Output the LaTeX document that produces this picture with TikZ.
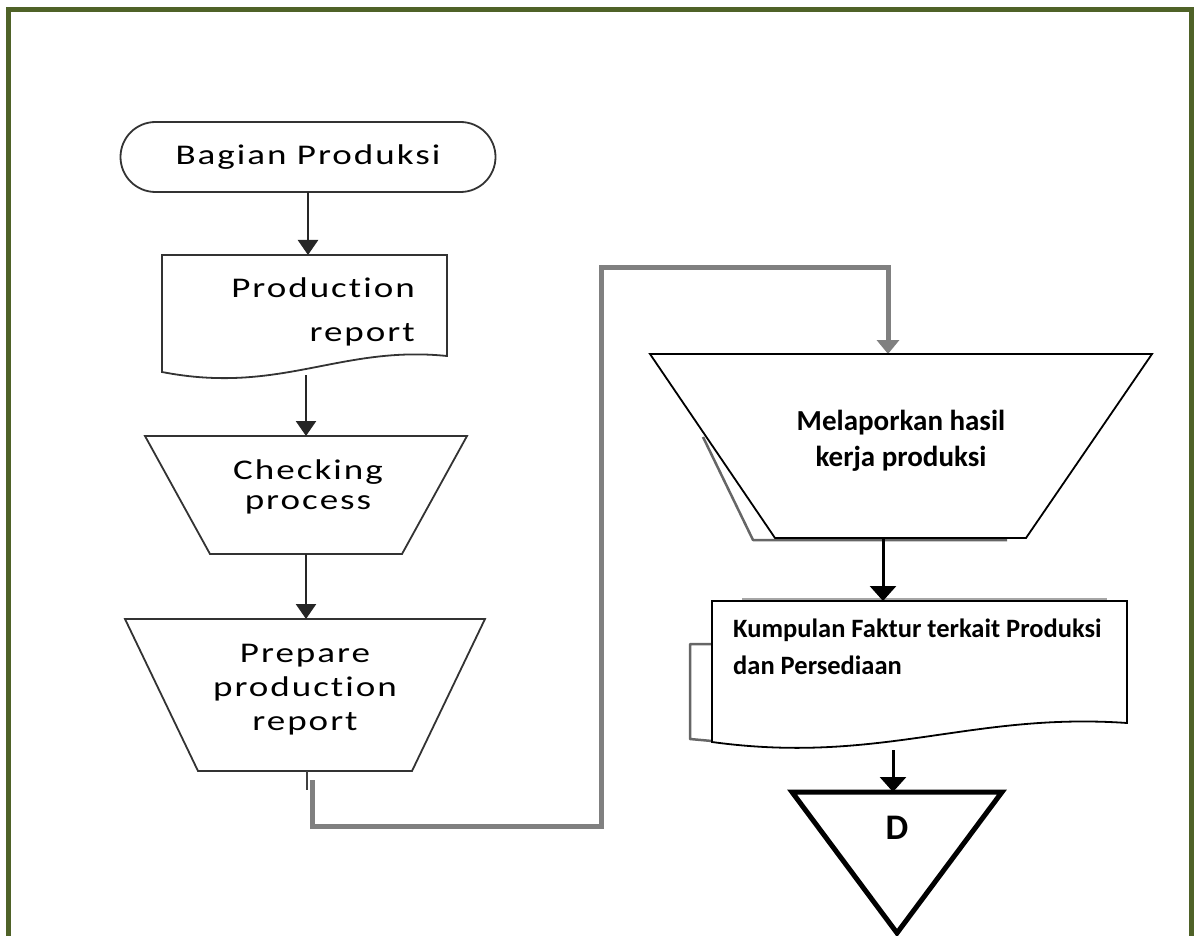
\documentclass[tikz,border=0pt]{standalone}
\usepackage{fontspec}
\setmainfont{Carlito}
\newfontfamily\leftfont[FakeStretch=1.3,LetterSpace=7,Ligatures=NoCommon]{Carlito}
\usetikzlibrary{arrows.meta}

\definecolor{frameolive}{RGB}{79,98,40}
\definecolor{flowgray}{RGB}{128,128,128}

\begin{document}
\begin{tikzpicture}[x=1pt, y=-1pt,
  shapebox/.style={inner sep=0pt, outer sep=0pt},
  leftline/.style={draw=black!80, line width=1.8pt, line join=miter},
  rightline/.style={draw=black, line width=1.8pt, line join=miter},
  leftarrow/.style={draw=black!85, line width=2.5pt, -{Triangle[width=20pt,length=15pt]}},
  rightarrow/.style={draw=black, line width=3pt, -{Triangle[width=26pt,length=15pt]}},
  grayflow/.style={draw=flowgray, line width=5pt, -{Triangle[width=22pt,length=14pt]}},
  shadowline/.style={draw=black!60, line width=2.5pt, line join=round}]
  \useasboundingbox (0,0) rectangle (1194,936);
  \clip (0,0) rectangle (1194,936);

  % Frame round the whole chart
  \draw[frameolive, line width=5pt] (8,9.5) rectangle (1191.5,980);

  % Left column: Bagian Produksi
  \node[shapebox, leftline, minimum width=375pt, minimum height=70pt, rounded corners=35pt,
        font=\leftfont\fontsize{28.5}{30}\selectfont] (bagian) at (308,157) {Bagian Produksi};

  % Production report (document)
  \node[shapebox, minimum width=285pt, minimum height=120pt] (prodrep) at (304.5,315) {};
  \draw[leftline, fill=white] (prodrep.north west) -- (prodrep.north east) -- (447,356)
    .. controls (340,345) and (280,395) .. (162,372) -- cycle;
  \node[align=right, anchor=east, inner sep=0pt, font=\leftfont\fontsize{28.5}{44}\selectfont]
    (prodrep-txt) at (415,312) {Production\\report};

  % Checking process (manual operation)
  \node[shapebox, minimum width=322pt, minimum height=118pt] (check) at (306,495) {};
  \draw[leftline, fill=white] (check.north west) -- (check.north east)
    -- ([xshift=-65pt]check.south east) -- ([xshift=65pt]check.south west) -- cycle;
  \node[align=center, inner sep=0pt, font=\leftfont\fontsize{28.5}{30}\selectfont]
    (check-txt) at (308,487) {Checking\\process};

  % Prepare production report (manual operation)
  \node[shapebox, minimum width=360pt, minimum height=152pt] (prep) at (305,695) {};
  \draw[leftline, fill=white] (prep.north west) -- (prep.north east)
    -- ([xshift=-73pt]prep.south east) -- ([xshift=73pt]prep.south west) -- cycle;
  \node[align=center, inner sep=0pt, font=\leftfont\fontsize{28.5}{34}\selectfont]
    (prep-txt) at (305,690) {Prepare\\production\\report};

  % Left arrows
  \draw[leftarrow] (bagian.south) -- (bagian.south |- prodrep.north);
  \draw[leftarrow] (check.north |- prodrep.south) -- (check.north);
  \draw[leftarrow] (check.south) -- (check.south |- prep.north);

  % Gray connector to the right column
  \coordinate (prep-out) at (312,780);
  \coordinate (turn-a) at (601,826);
  \coordinate (turn-b) at (601,267);
  \coordinate (melap-in) at (888,354);
  \draw[black!75, line width=2.5pt] ([xshift=2pt]prep.south) -- ++(0,19);
  \draw[grayflow] (prep-out) |- (turn-a) -- (turn-b) -| (melap-in);

  % Right column: Melaporkan hasil kerja produksi
  \node[shapebox, minimum width=502pt, minimum height=184pt] (melap) at (901,446) {};
  \draw[shadowline] (703,437) -- (753,540) -- (1007,540);
  \draw[rightline, fill=white] (melap.north west) -- (melap.north east)
    -- ([xshift=-126pt]melap.south east) -- ([xshift=125pt]melap.south west) -- cycle;
  \node[align=center, inner sep=0pt, font=\bfseries\fontsize{29}{36}\selectfont]
    (melap-txt) at (901,441) {Melaporkan hasil\\kerja produksi};

  % Kumpulan faktur (multi document)
  \node[shapebox, minimum width=415pt, minimum height=150pt] (faktur) at (919.5,676) {};
  \draw[shadowline, black!35, line width=2pt] (742,598.5) -- (1107,598.5);
  \draw[shadowline] (712,644) -| (690,739) -- (712,741);
  \draw[rightline, fill=white] (faktur.north west) -- (faktur.north east) -- (1127,723)
    .. controls (970,712) and (880,765) .. (712,742) -- cycle;
  \node[align=left, anchor=west, inner sep=0pt, font=\bfseries\fontsize{26.5}{37}\selectfont]
    (faktur-txt) at (733,647) {Kumpulan Faktur terkait Produksi\\dan Persediaan};

  % Off-page storage D
  \node[shapebox, minimum width=210pt, minimum height=141pt] (store) at (897,862.5) {};
  \draw[black, line width=5pt, line join=miter, fill=white]
    (store.north west) -- (store.north east) -- (store.south) -- cycle;
  \node[font=\bfseries\fontsize{36}{40}\selectfont] (store-txt) at (897,828) {D};

  % Right arrows
  \coordinate (melap-out) at (883,538);
  \coordinate (faktur-out) at (893,750);
  \draw[rightarrow] (melap-out) -- (melap-out |- faktur.north);
  \draw[rightarrow] (faktur-out) -- (faktur-out |- store.north);
\end{tikzpicture}
\end{document}
